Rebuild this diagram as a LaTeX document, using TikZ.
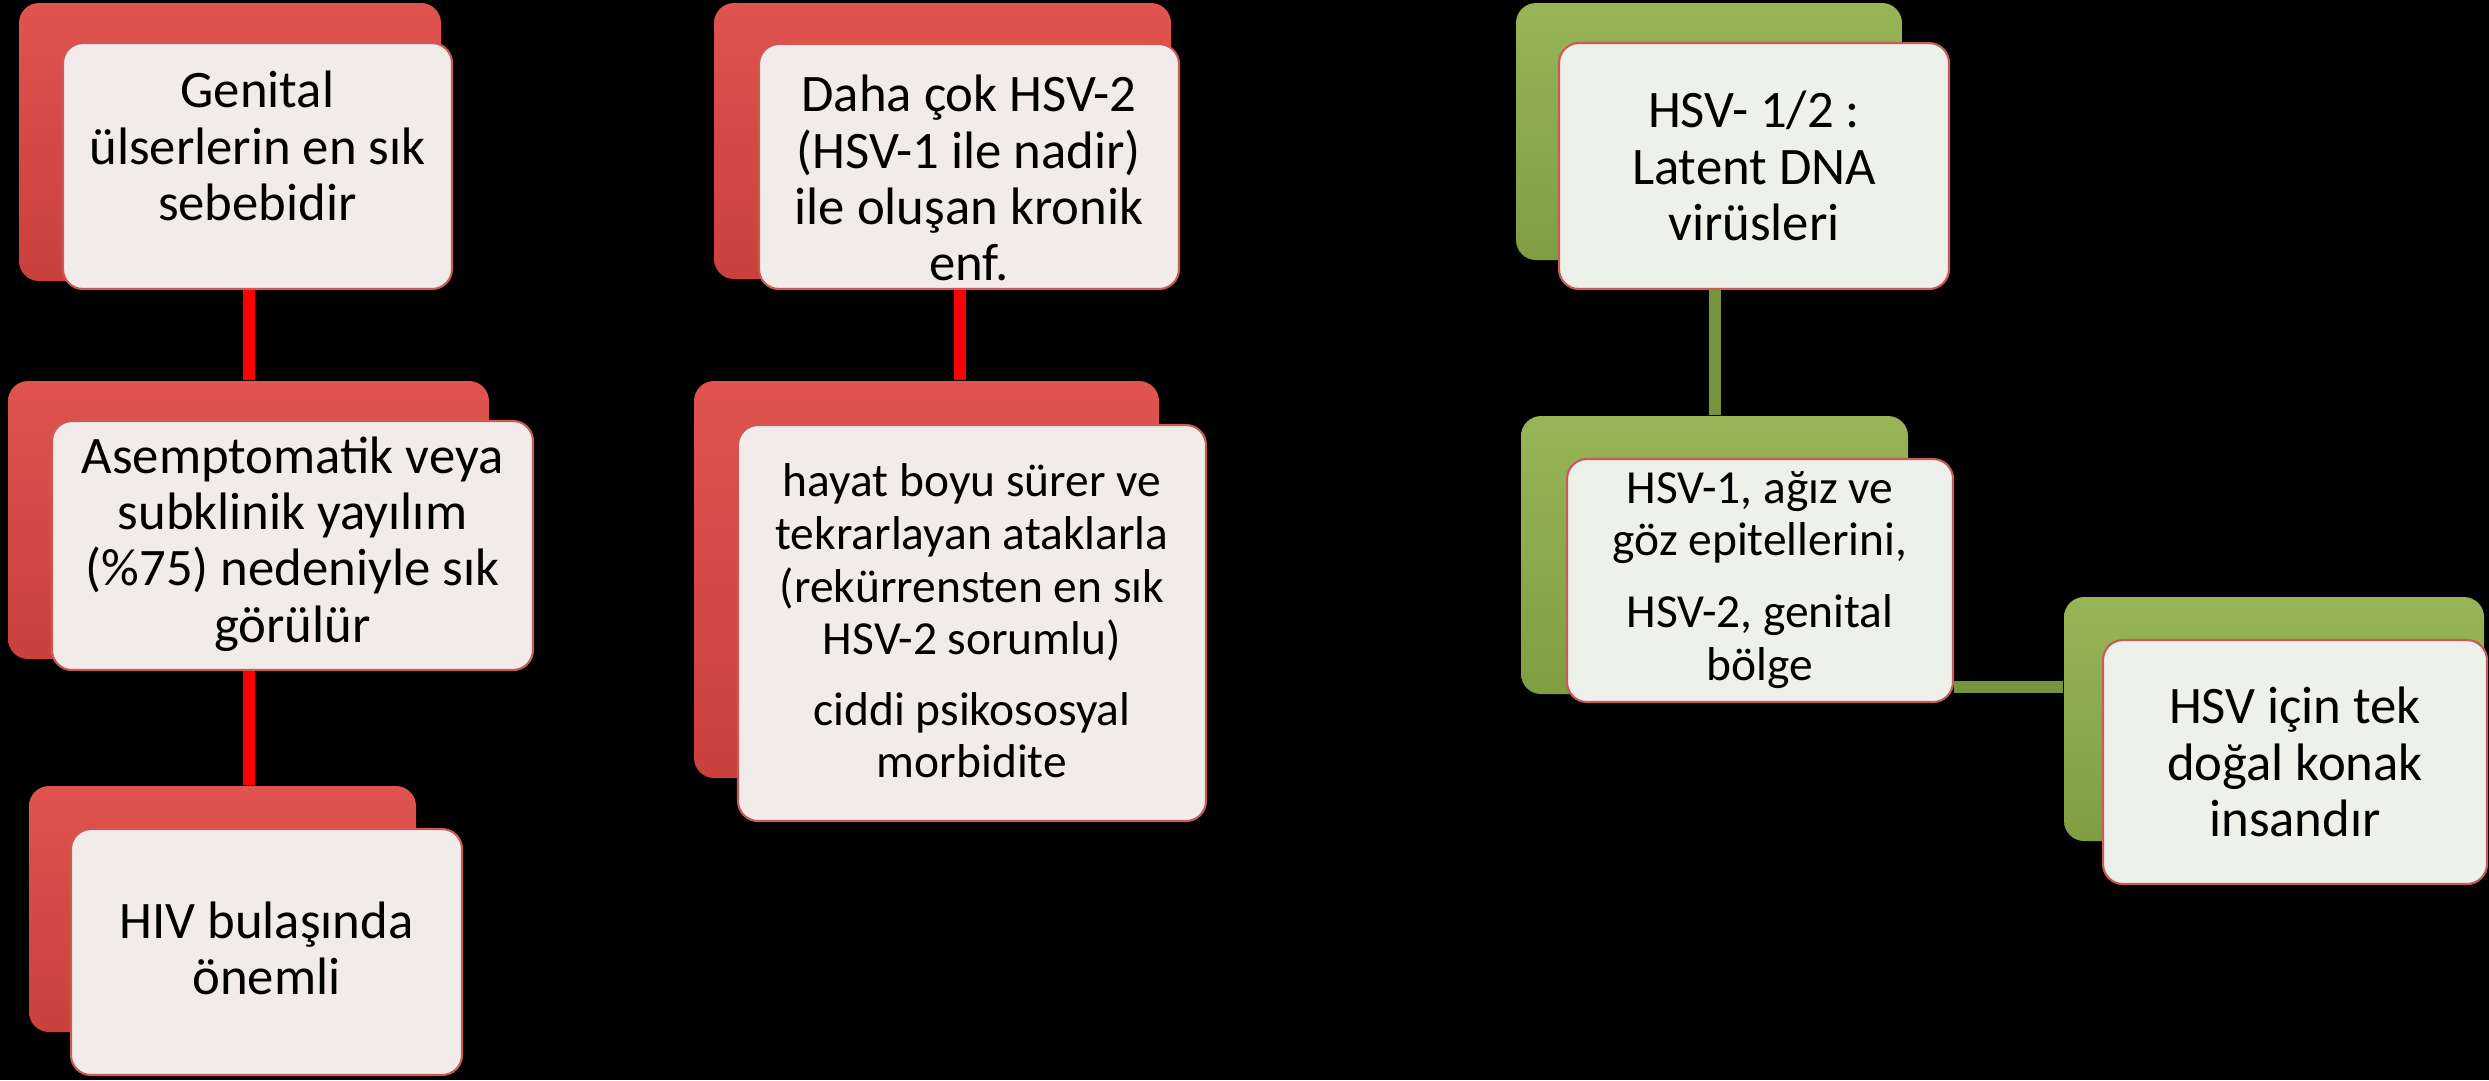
\documentclass[tikz,border=0pt]{standalone}
\usepackage{fontspec}
\setmainfont{Carlito}
\usepackage{tikz}
\definecolor{redtop}{HTML}{E0534F}
\definecolor{redbot}{HTML}{C9403D}
\definecolor{greentop}{HTML}{97B557}
\definecolor{greenbot}{HTML}{7F9E43}
\definecolor{frontred}{HTML}{F1EBEA}
\definecolor{frontgreen}{HTML}{EEF0EA}
\definecolor{edgered}{HTML}{C85A57}
\definecolor{linkgreen}{HTML}{77933C}

\begin{document}
\begin{tikzpicture}[x=0.1mm, y=-0.1mm,
  back/.style={rounded corners=2mm, inner sep=0pt, top color=redtop,
    bottom color=redbot},
  gback/.style={back, top color=greentop, bottom color=greenbot},
  front/.style={rounded corners=2mm, inner sep=0pt, fill=frontred,
    draw=edgered, line width=0.6pt},
  gfront/.style={front, fill=frontgreen},
  txt/.style={align=center, inner sep=0pt, font=\fontsize{15}{16}\selectfont},
  small/.style={txt, font=\fontsize{13.5}{15}\selectfont},
  redlink/.style={draw=red, line width=1.2mm},
  greenlink/.style={draw=linkgreen, line width=1.2mm}]
  \fill[black] (0,0) rectangle (2489,1080);
  \useasboundingbox (0,0) rectangle (2489,1080);

  \node[back, minimum width=42.2mm, minimum height=27.8mm] (b1) at (230,142) {};
  \node[front, minimum width=38.9mm, minimum height=24.6mm] (f1) at (257.5,166) {};
  \node[back, minimum width=48.1mm, minimum height=27.8mm] (b2) at (248.5,520) {};
  \node[front, minimum width=48.1mm, minimum height=24.9mm] (f2) at (292.5,545.5) {};
  \node[back, minimum width=38.7mm, minimum height=24.6mm] (b3) at (222.5,909) {};
  \node[front, minimum width=39.1mm, minimum height=24.6mm] (f3) at (266.5,952) {};

  \node[back, minimum width=45.7mm, minimum height=27.6mm] (b4) at (942.5,141) {};
  \node[front, minimum width=42.0mm, minimum height=24.5mm] (f4) at (969,166.5) {};
  \node[back, minimum width=46.5mm, minimum height=39.7mm] (b5) at (926.5,579.5) {};
  \node[front, minimum width=46.8mm, minimum height=39.6mm] (f5) at (972,623) {};

  \node[gback, minimum width=38.6mm, minimum height=25.7mm] (b6) at (1709,131.5) {};
  \node[gfront, minimum width=39.0mm, minimum height=24.6mm] (f6) at (1754,166) {};
  \node[gback, minimum width=38.7mm, minimum height=27.8mm] (b7) at (1714.5,555) {};
  \node[gfront, minimum width=38.6mm, minimum height=24.3mm] (f7) at (1760,580.5) {};
  \node[gback, minimum width=42.0mm, minimum height=24.4mm] (b8) at (2274,719) {};
  \node[gfront, minimum width=38.4mm, minimum height=24.4mm] (f8) at (2295,762) {};

  \node[txt] (t1) at (257.5,146) {Genital\\ülserlerin en sık\\sebebidir};
  \node[txt] (t2) at (292.5,544) {Asemptomatik veya\\subklinik yayılım\\(\%75) nedeniyle sık\\görülür};
  \node[txt] (t3) at (266.5,948) {HIV bulaşında\\önemli};
  \node[txt] (t4) at (969,178) {Daha çok HSV-2\\(HSV-1 ile nadir)\\ile oluşan kronik\\enf.};
  \node[small] (t5) at (972,621) {hayat boyu sürer ve\\tekrarlayan ataklarla\\(rekürrensten en sık\\HSV-2 sorumlu)\\[5pt]ciddi psikososyal\\morbidite};
  \node[txt] (t6) at (1754,166) {HSV- 1/2 :\\Latent DNA\\virüsleri};
  \node[small] (t7) at (1760,580) {HSV-1, ağız ve\\göz epitellerini,\\[5.5pt]HSV-2, genital\\bölge};
  \node[txt] (t8) at (2295,762) {HSV için tek\\doğal konak\\insandır};

  \draw[redlink] (f1.south -| b2.north) -- (b2.north);
  \draw[redlink] (f2.south -| b2.north) -- (b3.north -| b2.north);
  \draw[redlink] ([xshift=-0.9mm]f4.south) -- ([xshift=-0.9mm]f4.south |- b5.north);
  \draw[greenlink] (f6.south -| b7.north) -- (b7.north);
  \draw[greenlink] ([yshift=-10.6mm]f7.east) -- ([yshift=-10.6mm]f7.east -| b8.west);
\end{tikzpicture}
\end{document}
